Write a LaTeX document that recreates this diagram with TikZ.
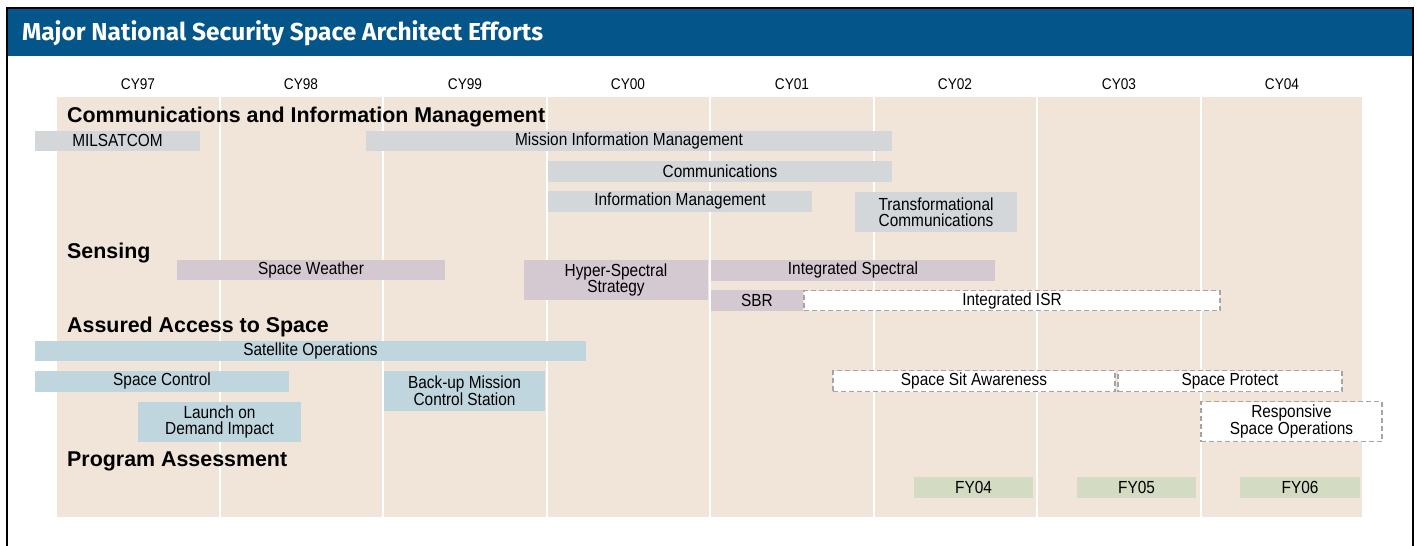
\documentclass[tikz,border=0pt]{standalone}
\usepackage{fontspec}
\setmainfont{Liberation Sans}
\newfontfamily\condfont[FakeStretch=0.88]{Liberation Sans}
\newfontfamily\titlefont{Fira Sans}
\definecolor{titleblue}{HTML}{03558A}
\definecolor{beige}{HTML}{F1E5DA}
\definecolor{graybar}{HTML}{D3D7DA}
\definecolor{purplebar}{HTML}{D4C8D1}
\definecolor{bluebar}{HTML}{C0D6DE}
\definecolor{greenbar}{HTML}{D4DBC3}
\definecolor{dashgray}{HTML}{A5A5A5}
\newcommand\tbox[7]{\node[#6, minimum width={(#4)-(#2)}, minimum height={(#5)-(#3)}] (#1) at ({((#2)+(#4))/2},{((#3)+(#5))/2+0.8}) {#7};}
\begin{document}
\begin{tikzpicture}[x=1pt,y=-1pt,
  barbase/.style={inner sep=0pt, align=center, font=\condfont\fontsize{17.5}{16}\selectfont, text=black},
  graybox/.style={barbase, fill=graybar},
  purplebox/.style={barbase, fill=purplebar},
  bluebox/.style={barbase, fill=bluebar},
  greenbox/.style={barbase, fill=greenbar},
  dashbox/.style={barbase, fill=white, draw=dashgray, dashed, dash pattern=on 5pt off 3pt, line width=1.2pt},
  heading/.style={anchor=base west, inner sep=0pt, font=\bfseries\fontsize{21.4}{24}\selectfont},
  yearlbl/.style={anchor=base, inner sep=0pt, font=\condfont\fontsize{15.5}{18}\selectfont}]
\useasboundingbox (0,0) rectangle (1417,546);
\fill[white] (0,0) rectangle (1417,546);
\fill[titleblue] (7,8) rectangle (1413,56);
\draw[black, line width=1.3pt] (7,546) -- (7,8) -- (1413,8) -- (1413,546);
\node[anchor=west, inner sep=0pt, text=white, font=\titlefont\bfseries\fontsize{24.5}{27}\selectfont] (title) at (22,33) {Major National Security Space Architect Efforts};
\fill[beige] (57,97) rectangle (1362,517);
\foreach \x in {219.5,383,546.5,710,873.5,1037,1200.5} \draw[white, line width=2pt] (\x,97) -- (\x,517);
\node[yearlbl] (y97) at (138,89) {CY97};
\node[yearlbl] (y98) at (301,89) {CY98};
\node[yearlbl] (y99) at (465,89) {CY99};
\node[yearlbl] (y00) at (628,89) {CY00};
\node[yearlbl] (y01) at (792,89) {CY01};
\node[yearlbl] (y02) at (955,89) {CY02};
\node[yearlbl] (y03) at (1119,89) {CY03};
\node[yearlbl] (y04) at (1282,89) {CY04};
\node[heading] (h1) at (67,122.5) {Communications and Information Management};
\node[heading] (h2) at (67,258) {Sensing};
\node[heading] (h3) at (67,332.5) {Assured Access to Space};
\node[heading] (h4) at (67,466) {Program Assessment};
\tbox{milsat}{35}{130}{200}{150}{graybox}{MILSATCOM}
\tbox{mim}{366}{130}{892}{150}{graybox}{Mission Information Management}
\tbox{comm}{548}{160}{892}{181}{graybox}{Communications}
\tbox{infom}{548}{190}{812}{211}{graybox}{Information Management}
\tbox{trans}{855}{191}{1017}{231}{graybox}{Transformational\\Communications}
\tbox{sw}{177}{259}{445}{279}{purplebox}{Space Weather}
\tbox{hyper}{524}{259}{708}{299}{purplebox}{Hyper-Spectral\\Strategy}
\tbox{intspec}{711}{259}{995}{280}{purplebox}{Integrated Spectral}
\tbox{sbr}{711}{289}{803}{310}{purplebox}{SBR}
\tbox{isr}{804}{290}{1220}{310}{dashbox}{Integrated ISR}
\tbox{satops}{35}{340}{586}{360}{bluebox}{Satellite Operations}
\tbox{sc}{35}{370}{289}{391}{bluebox}{Space Control}
\tbox{backup}{384}{370}{545}{410}{bluebox}{Back-up Mission\\Control Station}
\tbox{lod}{138}{401}{301}{441}{bluebox}{Launch on\\Demand Impact}
\tbox{ssa}{833}{370}{1115}{391}{dashbox}{Space Sit Awareness}
\tbox{sp}{1118}{370}{1342}{391}{dashbox}{Space Protect}
\tbox{rso}{1201}{401}{1382}{441}{dashbox}{Responsive\\Space Operations}
\tbox{fy04}{914}{476}{1033}{497}{greenbox}{FY04}
\tbox{fy05}{1077}{476}{1196}{497}{greenbox}{FY05}
\tbox{fy06}{1240}{476}{1360}{497}{greenbox}{FY06}
\end{tikzpicture}
\end{document}
